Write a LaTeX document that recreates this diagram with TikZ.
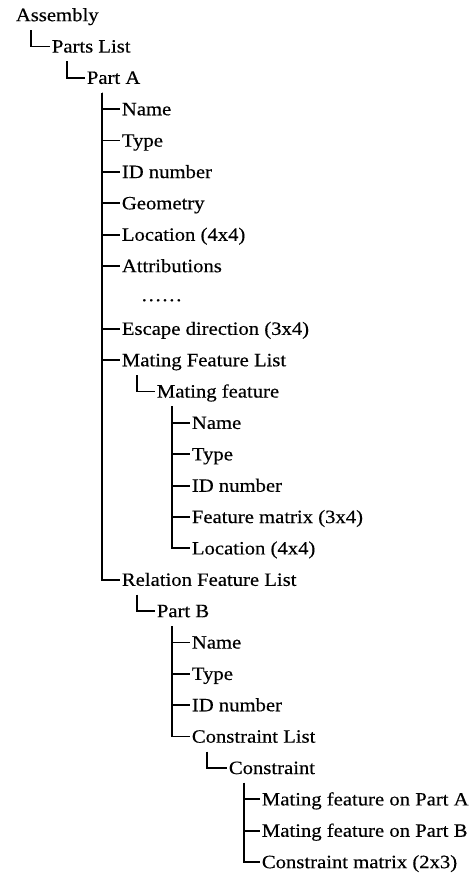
\documentclass[tikz,border=0pt]{standalone}
\usepackage{fontspec}
\setmainfont{Liberation Serif}[FakeStretch=1.1, FakeBold=0.4]

\begin{document}
\begin{tikzpicture}[x=1pt, y=-1pt, line width=1.8pt,
  item/.style={anchor=west, inner sep=1pt, text height=12.3pt, text depth=0pt,
    font=\fontsize{18.8}{20}\selectfont},
  branch/.style={xshift=17pt, yshift=-15pt}]
  \useasboundingbox (0,0) rectangle (476,873);
  \node[item] (asm) at (14,15) {Assembly};
  \node[item] (plist) at (50,46.4) {Parts List};
  \node[item] (pA) at (85,77.7) {Part A};
  \node[item] (aName) at (120,109.1) {Name};
  \node[item] (aType) at (120,140.5) {Type};
  \node[item] (aID) at (120,171.9) {ID number};
  \node[item] (aGeom) at (120,203.2) {Geometry};
  \node[item] (aLoc) at (120,234.6) {Location (4x4)};
  \node[item] (aAttr) at (120,266) {Attributions};
  \node[item] (dots) at (139,295) {……};
  \node[item] (aEsc) at (120,328.7) {Escape direction (3x4)};
  \node[item] (mfl) at (120,360.1) {Mating Feature List};
  \node[item] (mf) at (155,391.4) {Mating feature};
  \node[item] (mName) at (190,422.8) {Name};
  \node[item] (mType) at (190,454.2) {Type};
  \node[item] (mID) at (190,485.6) {ID number};
  \node[item] (mMat) at (190,516.9) {Feature matrix (3x4)};
  \node[item] (mLoc) at (190,548.3) {Location (4x4)};
  \node[item] (rfl) at (120,579.7) {Relation Feature List};
  \node[item] (pB) at (155,611) {Part B};
  \node[item] (bName) at (190,642.4) {Name};
  \node[item] (bType) at (190,673.8) {Type};
  \node[item] (bID) at (190,705.1) {ID number};
  \node[item] (clist) at (190,736.5) {Constraint List};
  \node[item] (cons) at (227,767.9) {Constraint};
  \node[item] (cA) at (260,799.3) {Mating feature on Part A};
  \node[item] (cB) at (260,830.6) {Mating feature on Part B};
  \node[item] (cMat) at (260,862) {Constraint matrix (2x3)};
  \draw ([branch]asm.west) |- (plist.west);
  \draw ([branch]plist.west) |- (pA.west);
  \foreach \c in {aName,aType,aID,aGeom,aLoc,aAttr,aEsc,mfl,rfl}
    \draw ([branch]pA.west) |- (\c.west);
  \draw ([branch]mfl.west) |- (mf.west);
  \foreach \c in {mName,mType,mID,mMat,mLoc}
    \draw ([branch]mf.west) |- (\c.west);
  \draw ([branch]rfl.west) |- (pB.west);
  \foreach \c in {bName,bType,bID,clist}
    \draw ([branch]pB.west) |- (\c.west);
  \draw ([branch]clist.west) |- (cons.west);
  \foreach \c in {cA,cB,cMat}
    \draw ([branch]cons.west) |- (\c.west);
\end{tikzpicture}
\end{document}
